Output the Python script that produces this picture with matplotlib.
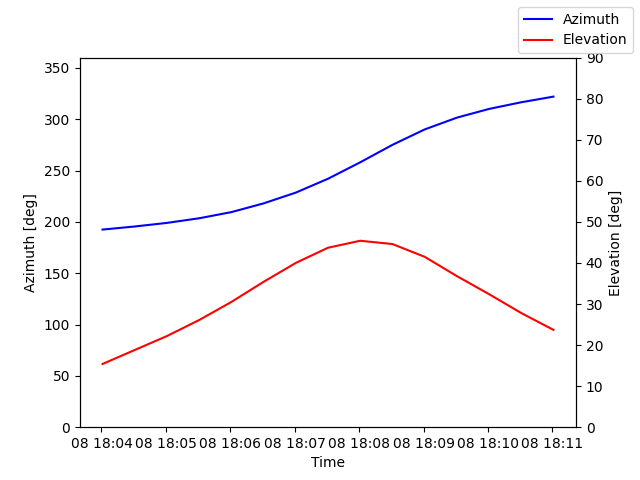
import numpy as np
import pandas as pd
import matplotlib
matplotlib.use("Agg")
import matplotlib.pyplot as plt

# pass samples, every 30 s
times = pd.date_range("2023-06-08 18:04:01", periods=15, freq="30s").to_pydatetime()
azimuth = [192.5, 195.5, 199.0, 203.5, 209.5, 218.0, 228.5, 242.0,
           258.0, 275.0, 290.0, 301.5, 310.0, 316.5, 322.0]
elevation = [15.4, 18.8, 22.2, 26.1, 30.5, 35.4, 40.0, 43.7,
             45.4, 44.6, 41.5, 36.8, 32.4, 27.8, 23.7]

fig, ax1 = plt.subplots()
ax1.plot(times, azimuth, color="blue", label="Azimuth")
ax1.set_xlabel("Time")
ax1.set_ylabel("Azimuth [deg]")
ax1.set_ylim(0, 360)

ax2 = ax1.twinx()
ax2.plot(times, elevation, color="red", label="Elevation")
ax2.set_ylabel("Elevation [deg]")
ax2.set_ylim(0, 90)

fig.legend(loc="upper right")
fig.savefig("out.png")
